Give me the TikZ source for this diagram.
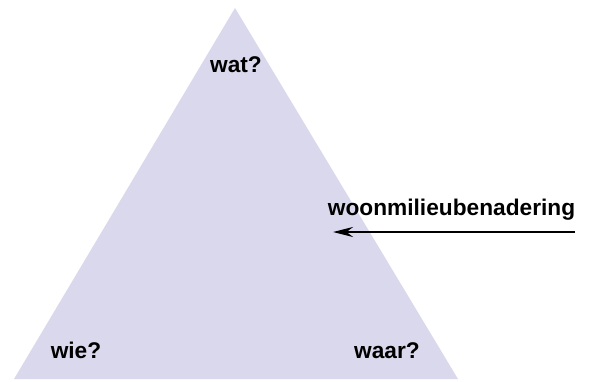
\documentclass[tikz,border=0pt]{standalone}
\usepackage{fontspec}
\setmainfont{Liberation Sans}
\usetikzlibrary{arrows.meta}
\definecolor{trifill}{RGB}{218,216,236}
\tikzset{
  lbl/.style={font=\fontsize{22.7}{27}\selectfont\bfseries, anchor=base, inner sep=0pt, text=black},
  arr/.style={line width=2.4pt, -{Stealth[length=20pt,width=10pt]}}
}
\begin{document}
\begin{tikzpicture}[x=1pt,y=-1pt]
\useasboundingbox (0,0) rectangle (591,381);
\coordinate (top) at (235,8);
\coordinate (bl) at (14,379);
\coordinate (br) at (458,379);
\fill[trifill] (top) -- (bl) -- (br) -- cycle;
\node[lbl] (wat) at (236,72) {wat?};
\node[lbl] (wie) at (76,358) {wie?};
\node[lbl] (waar) at (387,358) {waar?};
\node[lbl] (woon) at (451.5,215) {woonmilieubenadering};
\coordinate (astart) at (575,232);
\coordinate (aend) at (333,232);
\draw[arr] (astart) -- (aend);
\end{tikzpicture}
\end{document}
